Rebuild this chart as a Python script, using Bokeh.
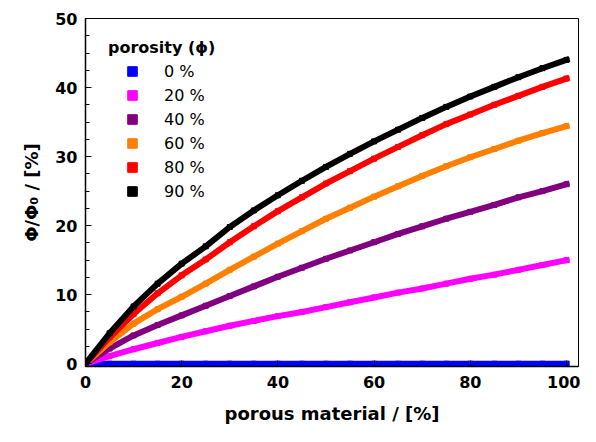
from bokeh.plotting import figure
from bokeh.models import Range1d, SingleIntervalTicker, Legend, LegendItem
from bokeh.embed import file_html
from bokeh.resources import INLINE

# porous material fraction [%]
material = [0, 5, 10, 15, 20, 25, 30, 35, 40, 45, 50,
            55, 60, 65, 70, 75, 80, 85, 90, 95, 100]

# Phi/Phi0 [%] for each porosity
phi_0 = [0, 0, 0, 0, 0, 0, 0, 0, 0, 0, 0,
         0, 0, 0, 0, 0, 0, 0, 0, 0, 0]
phi_20 = [0, 1.1, 2.1, 3.0, 3.9, 4.7, 5.5, 6.2, 6.9, 7.5, 8.2,
          8.9, 9.6, 10.3, 10.9, 11.6, 12.3, 12.9, 13.6, 14.3, 15.0]
phi_40 = [0, 2.2, 4.1, 5.6, 7.0, 8.4, 9.8, 11.2, 12.6, 13.9, 15.2,
          16.4, 17.6, 18.8, 19.9, 21.0, 22.0, 23.0, 24.1, 25.0, 26.0]
phi_60 = [0, 3.1, 5.8, 7.9, 9.7, 11.6, 13.6, 15.5, 17.4, 19.2, 21.0,
          22.6, 24.2, 25.7, 27.2, 28.6, 29.9, 31.1, 32.3, 33.4, 34.4]
phi_80 = [0, 3.8, 7.2, 10.2, 12.8, 15.1, 17.6, 19.9, 22.1, 24.1, 26.1,
          27.9, 29.7, 31.4, 33.1, 34.7, 36.1, 37.5, 38.8, 40.1, 41.3]
phi_90 = [0, 4.4, 8.3, 11.6, 14.5, 17.0, 19.8, 22.2, 24.4, 26.5, 28.5,
          30.4, 32.2, 33.9, 35.6, 37.2, 38.7, 40.1, 41.5, 42.8, 44.0]

labels = ["0 %", "20 %", "40 %", "60 %", "80 %", "90 %"]
series = [phi_0, phi_20, phi_40, phi_60, phi_80, phi_90]
colors = ["#0000FF", "#FF00FF", "#800080", "#FF8000", "#FF0000", "#000000"]

p = figure(width=580, height=426,
           x_range=Range1d(0, 102.5), y_range=Range1d(-0.4, 50),
           output_backend="svg", toolbar_location=None,
           min_border_left=85, min_border_right=2,
           min_border_top=18, min_border_bottom=58)

p.grid.visible = False
p.background_fill_color = "white"
p.border_fill_color = "white"
p.outline_line_color = "black"
p.outline_line_width = 1

p.xaxis.ticker = SingleIntervalTicker(interval=20, num_minor_ticks=0)
p.yaxis.ticker = SingleIntervalTicker(interval=10, num_minor_ticks=4)

for ax in (p.xaxis[0], p.yaxis[0]):
    ax.axis_line_color = "black"
    ax.axis_line_width = 1.5
    ax.major_tick_line_color = "black"
    ax.minor_tick_line_color = "black"
    ax.major_tick_in = 6
    ax.major_tick_out = 0
    ax.minor_tick_in = 4
    ax.minor_tick_out = 0
    ax.major_label_text_font = "DejaVu Sans"
    ax.major_label_text_font_style = "bold"
    ax.major_label_text_font_size = "16px"
    ax.major_label_text_color = "black"
    ax.axis_label_text_font = "DejaVu Sans"
    ax.axis_label_text_font_style = "bold"
    ax.axis_label_text_font_size = "18px"
    ax.axis_label_text_color = "black"

p.xaxis.axis_label = "porous material / [%]"
p.yaxis.axis_label = "Φ/Φ₀ / [%]"
p.xaxis.major_label_standoff = 9
p.xaxis.axis_label_standoff = 12
p.yaxis.major_label_standoff = 8
p.yaxis.axis_label_standoff = 10

items = []
for lab, ys, col in zip(labels, series, colors):
    p.line(material, ys, line_color=col, line_width=6, line_cap="square")
    r = p.scatter(material, ys, marker="square", size=5,
                  fill_color=col, line_color=col)
    items.append(LegendItem(label=lab, renderers=[r]))

legend = Legend(items=items, location=(23, 163),
                title="porosity (ϕ)",
                title_text_font="DejaVu Sans",
                title_text_font_style="bold",
                title_text_font_size="16px",
                title_text_color="black",
                title_standoff=2,
                label_text_font="DejaVu Sans",
                label_text_font_size="16px",
                label_text_color="black",
                glyph_width=48, glyph_height=24,
                label_standoff=8, label_height=24,
                spacing=0, padding=0, margin=0,
                border_line_color=None,
                background_fill_alpha=0)
p.add_layout(legend)

open("out.html", "w").write(file_html(p, INLINE))
